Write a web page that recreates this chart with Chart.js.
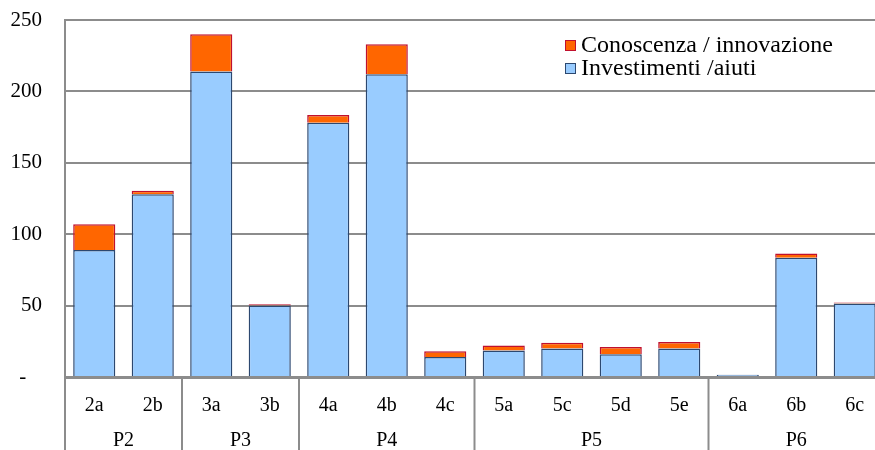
<!DOCTYPE html>
<html>
<head>
<meta charset="utf-8">
<script src="https://cdn.jsdelivr.net/npm/chart.js@4"></script>
<style>
  html, body { margin: 0; padding: 0; background: #fff; overflow: hidden; }
  #wrap { width: 875px; height: 450px; overflow: hidden; }
</style>
</head>
<body>
<div id="wrap"><canvas id="chart" width="884" height="450"></canvas></div>
<script>
// categories (sub-measures) and their groups
const categories = ['2a', '2b', '3a', '3b', '4a', '4b', '4c', '5a', '5c', '5d', '5e', '6a', '6b', '6c'];
const groupLabels = ['P2', 'P3', 'P4', 'P5', 'P6'];
const groupSizes = [2, 2, 3, 4, 3];

// series values
const investimenti = [89, 128, 214, 50, 178, 212, 14, 18.5, 20, 16, 20, 1.5, 83.5, 51.5];
const conoscenza = [18, 2.5, 26, 1, 5.5, 21, 4, 3.5, 4, 5, 4.5, 0, 3, 0.7];

const yTicks = [0, 50, 100, 150, 200, 250];

const serif = "'Liberation Serif', 'Times New Roman', serif";
const gridGrey = '#8c8c8c';

// group labels, separators below the axis and the legend box
const extrasPlugin = {
  id: 'extras',
  afterDraw(chart) {
    const ctx = chart.ctx;
    const x = chart.scales.x;
    const area = chart.chartArea;
    const h = chart.height;
    ctx.save();
    ctx.strokeStyle = gridGrey;
    ctx.lineWidth = 2;
    // left line continues down through the label rows
    ctx.beginPath();
    ctx.moveTo(area.left, area.bottom);
    ctx.lineTo(area.left, h);
    ctx.stroke();

    ctx.fillStyle = '#000';
    ctx.font = '20px ' + serif;
    ctx.textAlign = 'center';
    ctx.textBaseline = 'middle';
    let start = 0;
    groupLabels.forEach((g, i) => {
      const end = start + groupSizes[i] - 1;
      const x0 = x.getPixelForValue(start);
      const x1 = x.getPixelForValue(end);
      ctx.fillText(g, (x0 + x1) / 2, area.bottom + 64);
      if (end < categories.length - 1) {
        const sep = (x1 + x.getPixelForValue(end + 1)) / 2;
        ctx.beginPath();
        ctx.moveTo(sep, area.bottom);
        ctx.lineTo(sep, h);
        ctx.stroke();
      }
      start = end + 1;
    });

    // legend (top series first)
    const items = [chart.data.datasets[1], chart.data.datasets[0]];
    ctx.textAlign = 'left';
    ctx.font = '24px ' + serif;
    items.forEach((ds, i) => {
      const by = 40 + i * 23;
      ctx.fillStyle = ds.backgroundColor;
      ctx.fillRect(565, by, 11, 11);
      ctx.strokeStyle = ds.borderColor;
      ctx.lineWidth = 1;
      ctx.strokeRect(565.5, by + 0.5, 10, 10);
      ctx.fillStyle = '#000';
      ctx.fillText(ds.label, 581, by + 6);
    });
    ctx.restore();
  }
};

new Chart(document.getElementById('chart'), {
  type: 'bar',
  data: {
    labels: categories,
    datasets: [
      {
        label: 'Investimenti /aiuti',
        data: investimenti,
        backgroundColor: '#99CCFF',
        borderColor: '#2c4870',
        borderWidth: 1.5,
      },
      {
        label: 'Conoscenza / innovazione',
        data: conoscenza,
        backgroundColor: '#FF6600',
        borderColor: '#c0102e',
        borderWidth: 1.5,
      },
    ],
  },
  options: {
    responsive: false,
    animation: false,
    layout: { padding: { top: 20, right: 0, left: 0, bottom: 0 } },
    datasets: {
      bar: { categoryPercentage: 1, barPercentage: 0.72 },
    },
    plugins: {
      legend: { display: false },
      tooltip: { enabled: false },
    },
    scales: {
      x: {
        stacked: true,
        grid: { display: false, drawTicks: false },
        border: { display: true, color: gridGrey, width: 3 },
        ticks: {
          color: '#000',
          font: { family: serif, size: 20 },
          padding: 17,
          maxRotation: 0,
          autoSkip: false,
        },
        afterFit(scale) { scale.height = 73; },
      },
      y: {
        stacked: true,
        min: 0,
        max: 250,
        afterBuildTicks(scale) { scale.ticks = yTicks.map(v => ({ value: v })); },
        grid: { color: gridGrey, lineWidth: 2, drawTicks: true, tickLength: 23, tickColor: 'rgba(0,0,0,0)' },
        border: { display: true, color: gridGrey, width: 2 },
        ticks: {
          color: '#000',
          font: { family: serif, size: 21 },
          padding: 0,
          callback: v => (v === 0 ? '-   ' : String(v)),
        },
        afterFit(scale) { scale.width = 65; },
      },
    },
  },
  plugins: [extrasPlugin],
});
</script>
</body>
</html>
